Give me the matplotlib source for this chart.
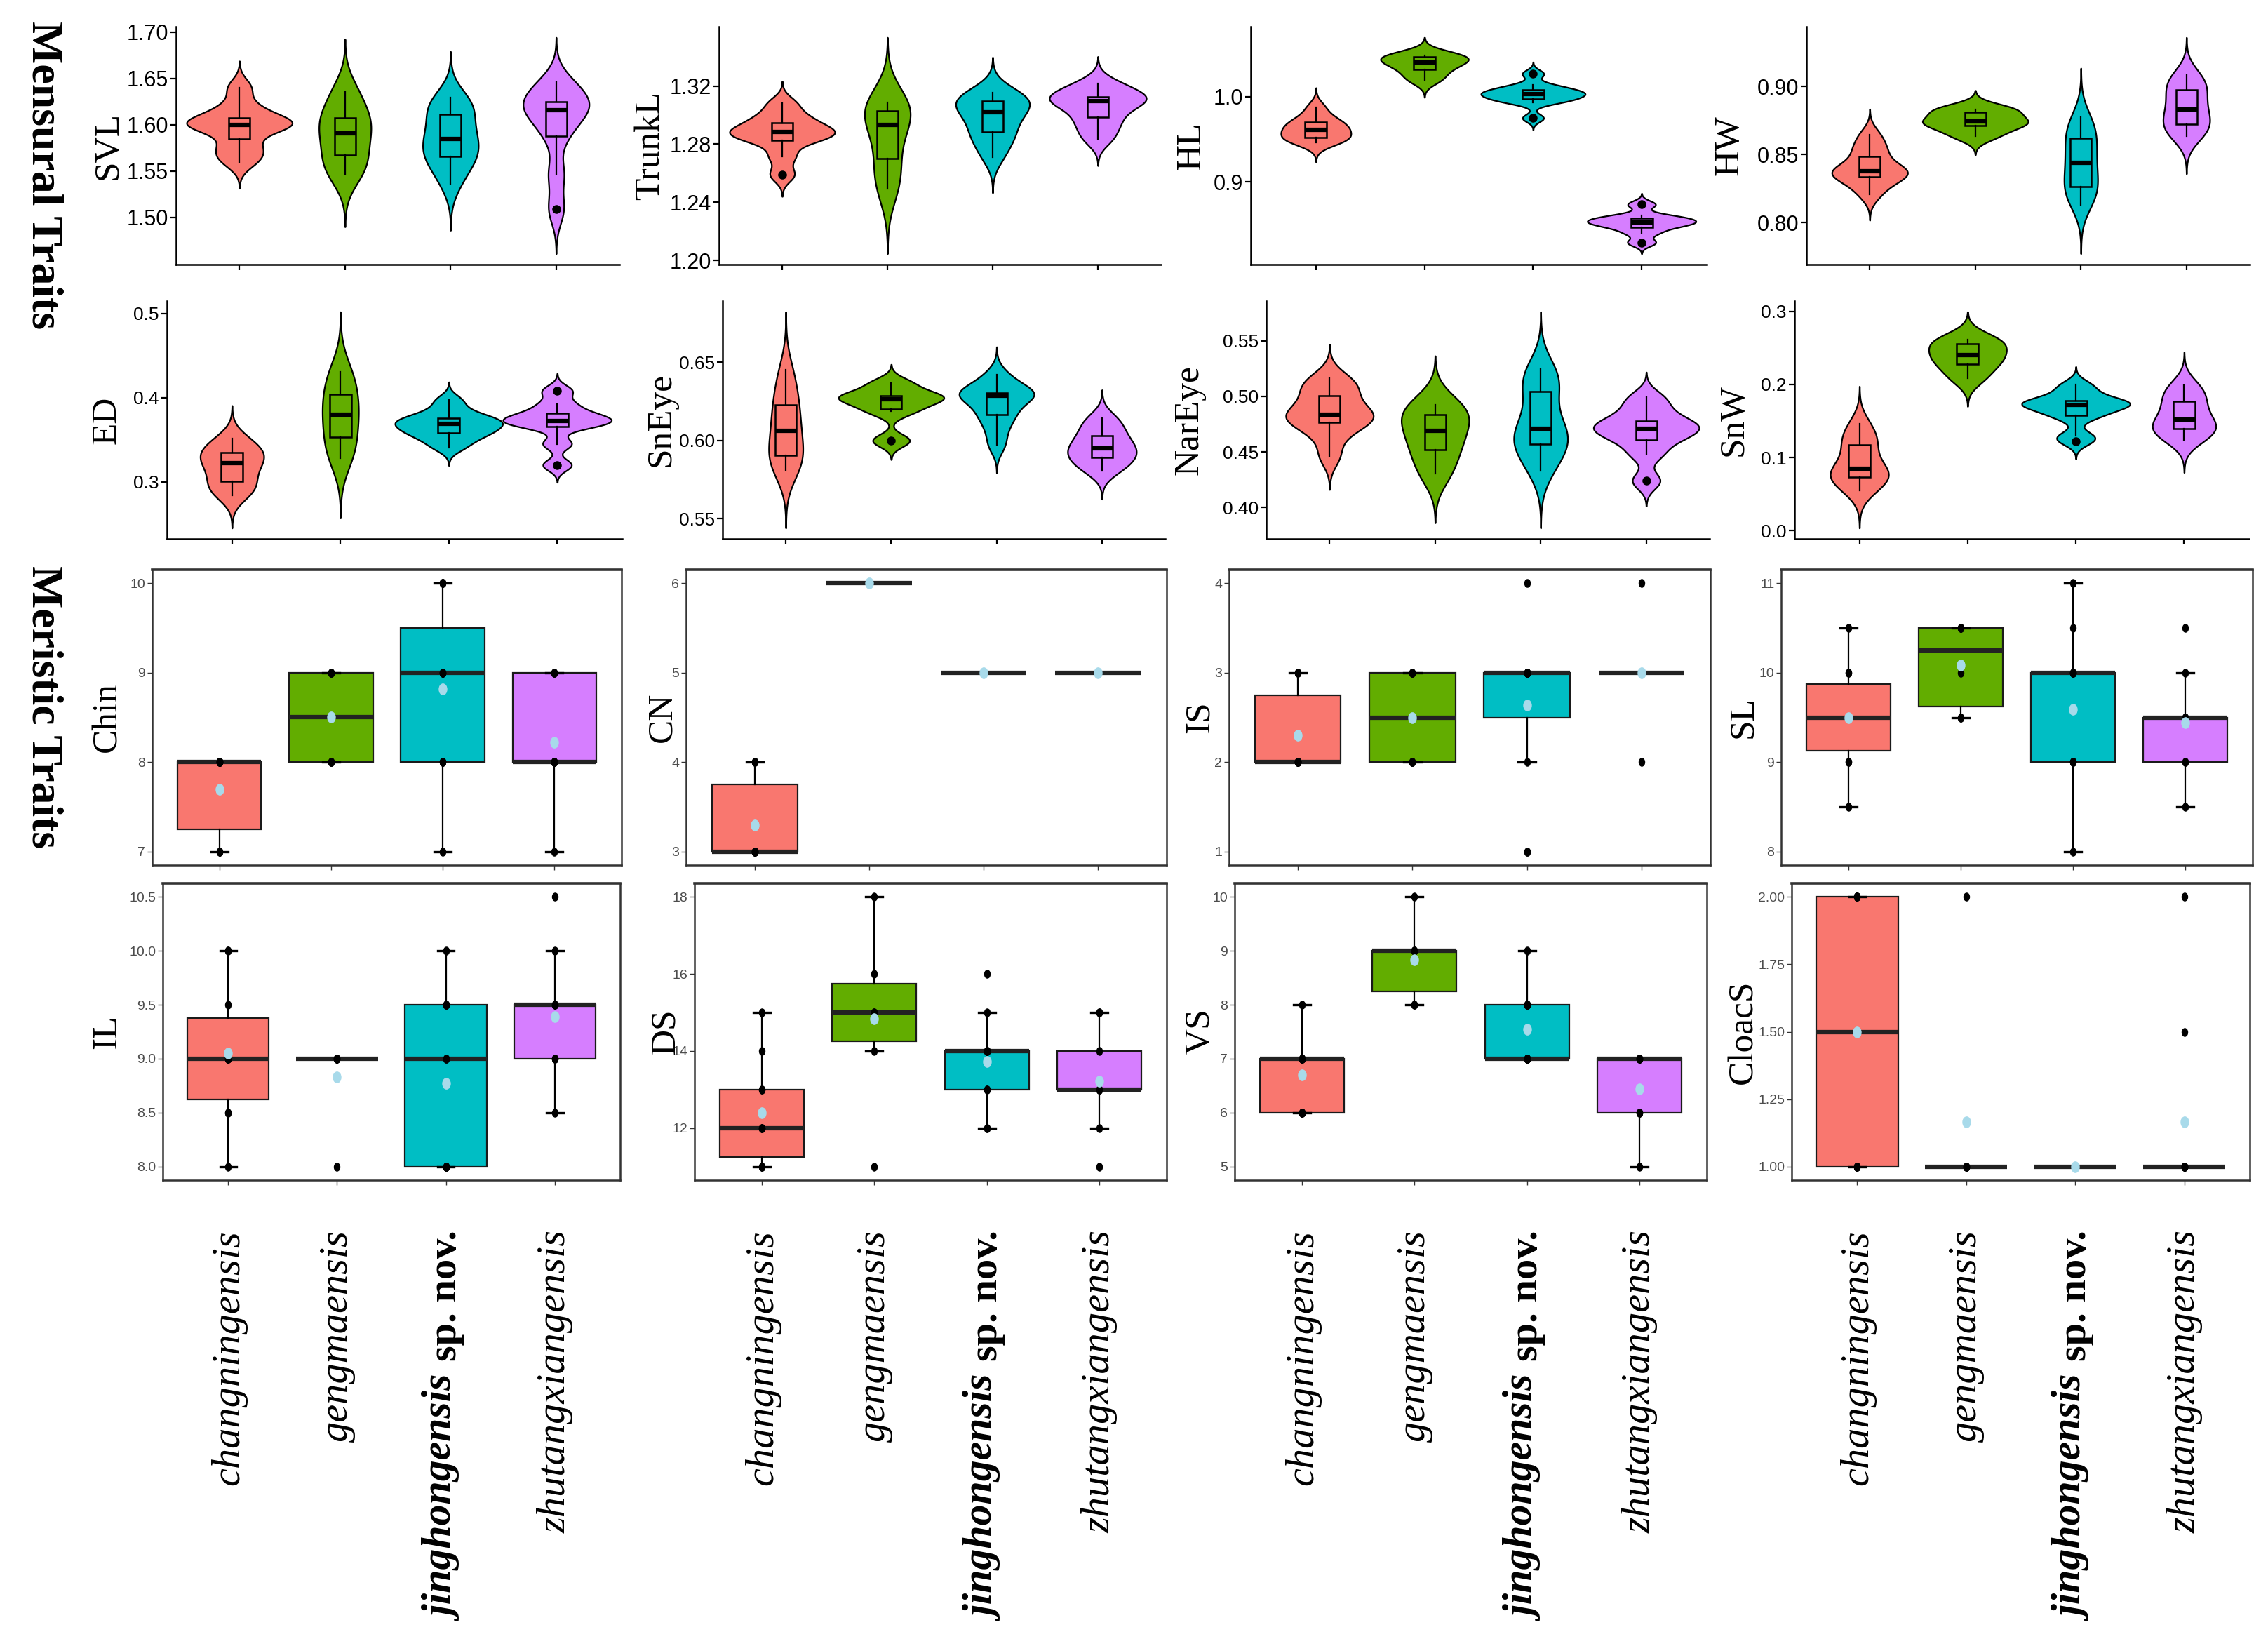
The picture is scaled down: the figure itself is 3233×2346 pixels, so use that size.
import numpy as np
import matplotlib
matplotlib.use("Agg")
import matplotlib.pyplot as plt
from matplotlib import font_manager
from matplotlib.font_manager import FontProperties
from matplotlib.path import Path
from matplotlib.transforms import Affine2D, IdentityTransform

# ---------------------------------------------------------------- data
SPECIES = ["changningensis", "gengmaensis", "jinghongensis", "zhutangxiangensis"]
COLORS = ["#F9776F", "#62AD00", "#00BEC4", "#D67EFF"]
MEAN_COLOR = "#A8DAEA"

# Mensural traits (log-transformed measurements), one list per species
SVL = [[1.56, 1.57, 1.58, 1.60, 1.60, 1.60, 1.60, 1.61, 1.62, 1.64],
       [1.547, 1.562, 1.582, 1.600, 1.610, 1.635],
       [1.536, 1.555, 1.562, 1.569, 1.578, 1.585, 1.592, 1.605, 1.617, 1.622, 1.629],
       [1.509, 1.547, 1.588, 1.605, 1.616, 1.620, 1.625, 1.636, 1.646]]
TRUNKL = [[1.259, 1.2716, 1.282, 1.285, 1.287, 1.2894, 1.291, 1.2957, 1.300, 1.3082],
          [1.2495, 1.265, 1.285, 1.3016, 1.3035, 1.3085],
          [1.2709, 1.280, 1.2862, 1.2902, 1.297, 1.3018, 1.305, 1.3082, 1.311, 1.3135, 1.3153],
          [1.2835, 1.292, 1.2985, 1.305, 1.3098, 1.311, 1.3126, 1.317, 1.3219]]
HL = [[0.946, 0.949, 0.951, 0.9547, 0.960, 0.9632, 0.966, 0.9713, 0.976, 0.988],
      [1.020, 1.0302, 1.0385, 1.0421, 1.0486, 1.049],
      [0.975, 0.993, 0.996, 0.9986, 1.001, 1.0035, 1.005, 1.007, 1.0098, 1.014, 1.027],
      [0.8286, 0.840, 0.847, 0.850, 0.8524, 0.855, 0.857, 0.8605, 0.8735]]
HW = [[0.8208, 0.829, 0.8328, 0.8368, 0.8372, 0.8382, 0.843, 0.8506, 0.856, 0.8645],
      [0.8636, 0.8703, 0.8738, 0.8754, 0.8827, 0.8834],
      [0.8132, 0.8205, 0.825, 0.8284, 0.838, 0.844, 0.850, 0.859, 0.8646, 0.870, 0.8775],
      [0.8636, 0.868, 0.8724, 0.878, 0.8834, 0.891, 0.8978, 0.903, 0.9083]]
ED = [[0.2839, 0.292, 0.298, 0.3092, 0.318, 0.3264, 0.330, 0.3363, 0.343, 0.352],
      [0.3286, 0.3472, 0.372, 0.388, 0.4096, 0.4306],
      [0.3411, 0.350, 0.357, 0.3596, 0.364, 0.3689, 0.371, 0.3742, 0.377, 0.385, 0.3972],
      [0.320, 0.3453, 0.3661, 0.370, 0.3728, 0.377, 0.3819, 0.3925, 0.4083]]
SNEYE = [[0.581, 0.5855, 0.589, 0.5942, 0.603, 0.6096, 0.6175, 0.6247, 0.634, 0.6453],
         [0.5999, 0.6187, 0.6245, 0.6281, 0.629, 0.6365],
         [0.597, 0.607, 0.6148, 0.618, 0.624, 0.6286, 0.6295, 0.6302, 0.631, 0.636, 0.6422],
         [0.5805, 0.585, 0.5891, 0.592, 0.595, 0.599, 0.603, 0.609, 0.6143]]
NAREYE = [[0.4465, 0.466, 0.4755, 0.4803, 0.4825, 0.4845, 0.4935, 0.503, 0.510, 0.5163],
          [0.4302, 0.4488, 0.4625, 0.4751, 0.4863, 0.4923],
          [0.4329, 0.445, 0.455, 0.4588, 0.465, 0.471, 0.4775, 0.4985, 0.510, 0.518, 0.5246],
          [0.424, 0.4481, 0.4606, 0.466, 0.471, 0.4745, 0.4781, 0.488, 0.499]]
SNW = [[0.0548, 0.065, 0.072, 0.0776, 0.083, 0.0864, 0.108, 0.120, 0.130, 0.146],
       [0.2082, 0.2255, 0.2359, 0.2449, 0.2590, 0.2610],
       [0.1224, 0.130, 0.1545, 0.1613, 0.168, 0.1724, 0.174, 0.1765, 0.1785, 0.190, 0.1998],
       [0.1244, 0.132, 0.1395, 0.145, 0.1514, 0.165, 0.1766, 0.188, 0.1991]]

MENSURAL_NAMES = ["SVL", "TrunkL", "HL", "HW", "ED", "SnEye", "NarEye", "SnW"]
MENSURAL_DATA = [SVL, TRUNKL, HL, HW, ED, SNEYE, NAREYE, SNW]
MENSURAL_TICKS = [[1.50, 1.55, 1.60, 1.65, 1.70], [1.20, 1.24, 1.28, 1.32], [0.9, 1.0],
                  [0.80, 0.85, 0.90], [0.3, 0.4, 0.5], [0.55, 0.60, 0.65],
                  [0.40, 0.45, 0.50, 0.55], [0.0, 0.1, 0.2, 0.3]]
MENSURAL_FMT = ["%.2f", "%.2f", "%.1f", "%.2f", "%.1f", "%.2f", "%.2f", "%.1f"]

# Meristic traits (counts), one list per species
CHIN = [[7, 7, 7, 8, 8, 8, 8, 8, 8, 8], [8, 8, 8, 9, 9, 9],
        [7, 8, 8, 8, 9, 9, 9, 9, 10, 10, 10], [7, 8, 8, 8, 8, 8, 9, 9, 9]]
CN = [[3, 3, 3, 3, 3, 3, 3, 4, 4, 4], [6, 6, 6, 6, 6, 6],
      [5, 5, 5, 5, 5, 5, 5, 5, 5, 5, 5], [5, 5, 5, 5, 5, 5, 5, 5, 5]]
IS = [[2, 2, 2, 2, 2, 2, 2, 3, 3, 3], [2, 2, 2, 3, 3, 3],
      [1, 1, 2, 3, 3, 3, 3, 3, 3, 3, 4], [2, 3, 3, 3, 3, 3, 3, 3, 4]]
SL = [[8.5, 9, 9, 9.5, 9.5, 9.5, 9.5, 10, 10, 10.5], [9.5, 9.5, 10, 10.5, 10.5, 10.5],
      [8, 9, 9, 9, 9, 10, 10, 10, 10, 10.5, 11], [8.5, 9, 9, 9.5, 9.5, 9.5, 9.5, 10, 10.5]]
IL = [[8, 8.5, 8.5, 9, 9, 9, 9, 9.5, 10, 10], [8, 9, 9, 9, 9, 9],
      [8, 8, 8, 8, 8, 9, 9, 9.5, 9.5, 9.5, 10], [8.5, 9, 9, 9, 9.5, 9.5, 9.5, 10, 10.5]]
DS = [[11, 11, 11, 12, 12, 12, 13, 13, 14, 15], [11, 14, 15, 15, 16, 18],
      [12, 12, 13, 13, 14, 14, 14, 14, 14, 15, 16], [11, 12, 13, 13, 13, 13, 14, 15, 15]]
VS = [[6, 6, 6, 6, 7, 7, 7, 7, 7, 8], [8, 8, 9, 9, 9, 10],
      [7, 7, 7, 7, 7, 7, 8, 8, 8, 8, 9], [5, 6, 6, 6, 7, 7, 7, 7, 7]]
CLOACS = [[1, 1, 1, 1, 1, 2, 2, 2, 2, 2], [1, 1, 1, 1, 1, 2],
          [1, 1, 1, 1, 1, 1, 1, 1, 1, 1, 1], [1, 1, 1, 1, 1, 1, 1, 1.5, 2]]

MERISTIC_NAMES = ["Chin", "CN", "IS", "SL", "IL", "DS", "VS", "CloacS"]
MERISTIC_DATA = [CHIN, CN, IS, SL, IL, DS, VS, CLOACS]
MERISTIC_TICKS = [[7, 8, 9, 10], [3, 4, 5, 6], [1, 2, 3, 4], [8, 9, 10, 11],
                  [8.0, 8.5, 9.0, 9.5, 10.0, 10.5], [12, 14, 16, 18], [5, 6, 7, 8, 9, 10],
                  [1.00, 1.25, 1.50, 1.75, 2.00]]
MERISTIC_FMT = ["%d", "%d", "%d", "%d", "%.1f", "%d", "%d", "%.2f"]

# ---------------------------------------------------------------- layout
W, H = 3233, 2346
ROW_Y = [(38, 377), (429, 768), (812, 1233), (1259, 1682)]
ROW_X = [[(251, 883), (1025, 1655), (1783, 2433), (2575, 3207)],
         [(238, 887), (1030, 1661), (1805, 2437), (2558, 3206)],
         [(217, 886), (978, 1663), (1752, 2438), (2539, 3211)],
         [(232, 884), (990, 1663), (1760, 2433), (2554, 3207)]]
LABEL_X = [[167, 940, 1711, 2477], [165, 955, 1707, 2484],
           [165, 956, 1723, 2497], [165, 961, 1723, 2497]]

TTF = font_manager.fontManager.ttflist
names = {f.name for f in TTF}
SANS = "Liberation Sans"
NARROW = "Liberation Sans Narrow" if "Liberation Sans Narrow" in names else "Liberation Sans"
SERIF = "Liberation Serif"


def _is_bold(w):
    try:
        return int(w) >= 600
    except (TypeError, ValueError):
        return "bold" in str(w).lower()


def serif_file(italic, bold):
    for fam in ["Liberation Serif", "STIXGeneral", "DejaVu Serif"]:
        for f in TTF:
            if (f.name == fam and (f.style in ("italic", "oblique")) == italic
                    and _is_bold(f.weight) == bold):
                return f.fname
    return None


def serif_props(italic, bold, size):
    fn = serif_file(italic, bold)
    if fn:
        return FontProperties(fname=fn, size=size)
    return FontProperties(family=SERIF, style="italic" if italic else "normal",
                          weight="bold" if bold else "normal", size=size)


ELLIPSE = Path.unit_circle().transformed(Affine2D().scale(0.72, 1.0))
POS = [1, 2, 3, 4]

fig = plt.figure(figsize=(W / 100, H / 100), dpi=100)


def add_ax(r, c):
    x0, x1 = ROW_X[r][c]
    y0, y1 = ROW_Y[r]
    return fig.add_axes([x0 / W, 1 - y1 / H, (x1 - x0) / W, (y1 - y0) / H])


def nrd0(x):
    x = np.asarray(x, float)
    sd = x.std(ddof=1)
    q75, q25 = np.percentile(x, [75, 25])
    lo = min(sd, (q75 - q25) / 1.34) if q75 > q25 else sd
    return 0.9 * lo * len(x) ** (-0.2)


def kde(x, n=512, cut=3):
    x = np.asarray(x, float)
    bw = nrd0(x)
    grid = np.linspace(x.min() - cut * bw, x.max() + cut * bw, n)
    z = (grid[:, None] - x[None, :]) / bw
    dens = np.exp(-0.5 * z ** 2).sum(axis=1) / (len(x) * bw * np.sqrt(2 * np.pi))
    return grid, dens


def box_stats(x):
    x = np.sort(np.asarray(x, float))
    q1, med, q3 = np.percentile(x, [25, 50, 75])
    iqr = q3 - q1
    lo_f, hi_f = q1 - 1.5 * iqr - 1e-9, q3 + 1.5 * iqr + 1e-9
    inside = x[(x >= lo_f) & (x <= hi_f)]
    return dict(q1=q1, med=med, q3=q3, whislo=inside.min(), whishi=inside.max(),
                fliers=x[(x < lo_f) | (x > hi_f)], mean=x.mean())


YLAB_PROPS = serif_props(False, False, 37)


def ylabel(ax, r, c, text):
    x0, x1 = ROW_X[r][c]
    ax.set_ylabel(text, fontproperties=YLAB_PROPS, color="black")
    ax.yaxis.set_label_coords((LABEL_X[r][c] + 11 - x0) / (x1 - x0), 0.5)


def violin_panel(ax, r, c, data, ticks, fmt, name, tfs, tfam):
    kd = [kde(d) for d in data]
    gmax = max(d.max() for _, d in kd)
    vpstats, widths = [], []
    for (g, d), x in zip(kd, data):
        vpstats.append(dict(coords=g, vals=d, mean=np.mean(x), median=np.median(x),
                            min=g.min(), max=g.max()))
        widths.append(1.0 * d.max() / gmax)
    parts = ax.violin(vpstats, positions=POS, widths=widths, showmeans=False,
                      showextrema=False, showmedians=False)
    for body, col in zip(parts["bodies"], COLORS):
        body.set_facecolor(col)
        body.set_edgecolor("black")
        body.set_linewidth(1.6)
        body.set_alpha(1)
    stats = [box_stats(x) for x in data]
    bp = ax.bxp(stats, positions=POS, widths=0.2, patch_artist=True, showcaps=False,
                showfliers=True,
                boxprops=dict(linewidth=1.8, edgecolor="black"),
                medianprops=dict(color="black", linewidth=4.5, solid_capstyle="butt"),
                whiskerprops=dict(color="black", linewidth=1.6),
                flierprops=dict(marker="o", markerfacecolor="black",
                                markeredgecolor="black", markersize=8))
    for patch, col in zip(bp["boxes"], COLORS):
        patch.set_facecolor(col)
    lo = min(g.min() for g, _ in kd)
    hi = max(g.max() for g, _ in kd)
    pad = 0.05 * (hi - lo)
    ax.set_ylim(lo - pad, hi + pad)
    ax.set_xlim(0.4, 4.6)
    ax.set_yticks(ticks)
    ax.set_yticklabels([fmt % t for t in ticks], fontsize=tfs, fontfamily=tfam, color="black")
    ax.set_xticks(POS)
    ax.set_xticklabels([])
    for s in ("top", "right"):
        ax.spines[s].set_visible(False)
    for s in ("left", "bottom"):
        ax.spines[s].set_linewidth(1.8)
        ax.spines[s].set_color("black")
    ax.tick_params(direction="out", length=6, width=1.6, color="black", pad=2)
    ylabel(ax, r, c, name)


def meristic_panel(ax, r, c, data, ticks, fmt, name):
    stats = [box_stats(x) for x in data]
    for s in stats:
        s["fliers"] = []
    bp = ax.bxp(stats, positions=POS, widths=0.75, patch_artist=True, showcaps=True,
                capwidths=0.15, showfliers=False,
                boxprops=dict(linewidth=1.6, edgecolor="#1a1a1a"),
                medianprops=dict(color="#222222", linewidth=4.5, solid_capstyle="butt"),
                whiskerprops=dict(color="black", linewidth=1.6),
                capprops=dict(color="black", linewidth=2.4))
    for patch, col in zip(bp["boxes"], COLORS):
        patch.set_facecolor(col)
    for p, x in zip(POS, data):
        ax.plot(np.full(len(x), p), x, linestyle="none", marker=ELLIPSE, color="black",
                markersize=8, zorder=4)
        ax.plot([p], [np.mean(x)], linestyle="none", marker=ELLIPSE, color=MEAN_COLOR,
                markersize=11, zorder=5)
    allv = np.concatenate([np.asarray(x, float) for x in data])
    lo, hi = allv.min(), allv.max()
    pad = 0.05 * (hi - lo)
    ax.set_ylim(lo - pad, hi + pad)
    ax.set_xlim(0.4, 4.6)
    ax.set_yticks(ticks)
    ax.set_yticklabels([fmt % t for t in ticks], fontsize=14, fontfamily=NARROW,
                       color="#4D4D4D")
    ax.set_xticks(POS)
    ax.set_xticklabels([])
    for s in ax.spines.values():
        s.set_color("#333333")
        s.set_linewidth(1.8)
    ax.spines["top"].set_linewidth(2.6)
    ax.tick_params(direction="out", length=5, width=1.0, color="#333333", pad=2)
    ylabel(ax, r, c, name)


axes = [[add_ax(r, c) for c in range(4)] for r in range(4)]

for k in range(8):
    r, c = divmod(k, 4)
    violin_panel(axes[r][c], r, c, MENSURAL_DATA[k], MENSURAL_TICKS[k], MENSURAL_FMT[k],
                 MENSURAL_NAMES[k], 22 if r == 0 else 19, SANS if r == 0 else NARROW)

for k in range(8):
    r, c = divmod(k, 4)
    meristic_panel(axes[r + 2][c], r + 2, c, MERISTIC_DATA[k], MERISTIC_TICKS[k],
                   MERISTIC_FMT[k], MERISTIC_NAMES[k])

# row titles
TITLE_PROPS = serif_props(False, True, 46)
fig.text(61 / W, 1 - 250 / H, "Mensural Traits", rotation=270, ha="center", va="center",
         fontproperties=TITLE_PROPS)
fig.text(61 / W, 1 - 1008 / H, "Meristic Traits", rotation=270, ha="center", va="center",
         fontproperties=TITLE_PROPS)

# species labels under the bottom row
renderer = fig.canvas.get_renderer()
FS = 42
EM = FS * 100 / 72
TOP = H - 1753
P_IT = serif_props(True, False, FS)
P_BIT = serif_props(True, True, FS + 1)
P_B = serif_props(False, True, FS)
for c in range(4):
    ax = axes[3][c]
    for i, sp in enumerate(SPECIES):
        xb = ax.transData.transform((POS[i], 0))[0] + 0.25 * EM
        kw = dict(rotation=90, rotation_mode="anchor", ha="right", va="baseline",
                  transform=IdentityTransform())
        if i == 2:
            t2 = fig.text(xb, TOP, "sp. nov.", fontproperties=P_B, **kw)
            h = t2.get_window_extent(renderer).height
            fig.text(xb, TOP - h - 0.42 * EM, sp, fontproperties=P_BIT, **kw)
        else:
            fig.text(xb, TOP, sp, fontproperties=P_IT, **kw)

fig.savefig("out.png", dpi=100, facecolor="white")
